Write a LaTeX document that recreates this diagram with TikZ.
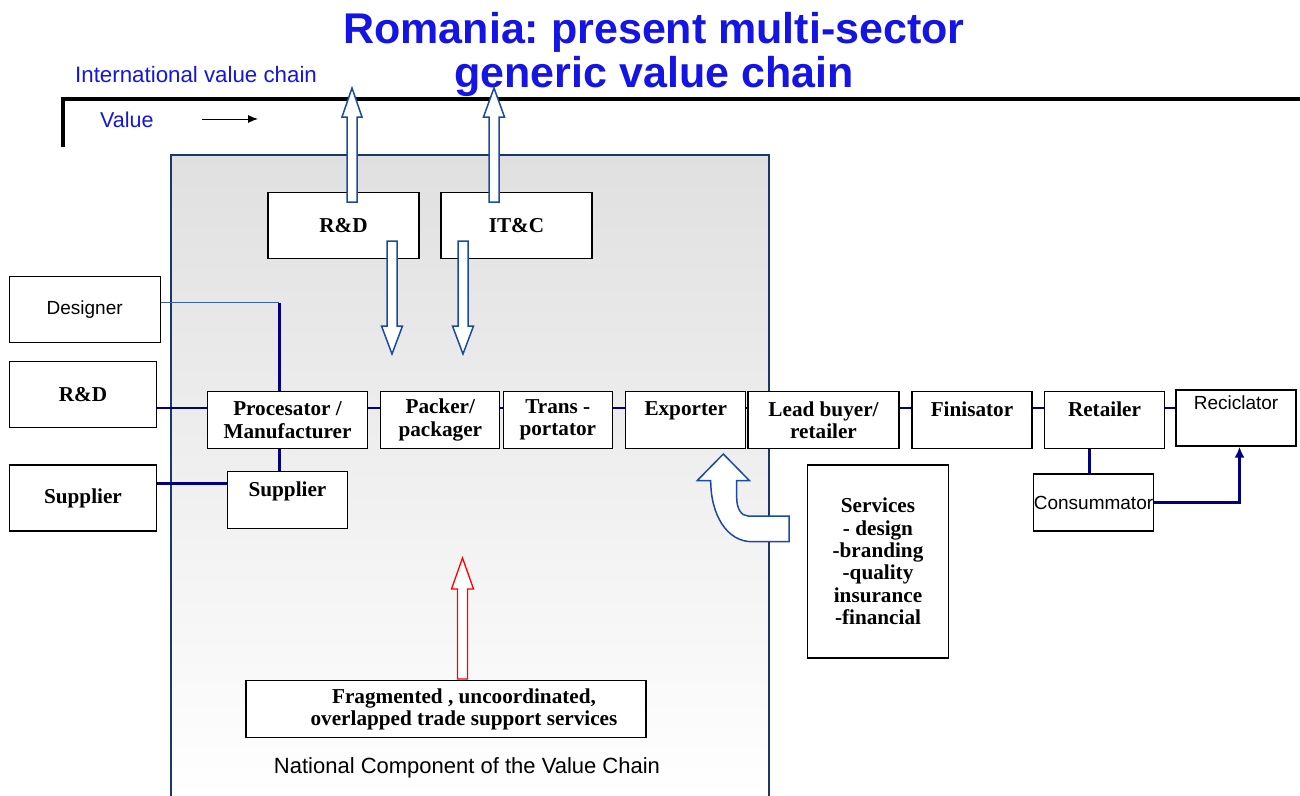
\documentclass[tikz,border=0pt]{standalone}
\usepackage{fontspec}
\setmainfont{Liberation Serif}
\setsansfont{Liberation Sans}
\usetikzlibrary{arrows.meta}
\frenchspacing
\definecolor{titleblue}{RGB}{20,20,228}
\definecolor{linknavy}{RGB}{0,0,128}
\definecolor{designlink}{RGB}{60,95,170}
\definecolor{panelnavy}{RGB}{25,55,105}
\definecolor{panelgray}{RGB}{224,224,224}
\definecolor{fatblue}{RGB}{25,75,160}
\begin{document}
\begin{tikzpicture}[x=1pt,y=-1pt,
  box/.style={draw,fill=white,line width=1.2pt,inner sep=0pt,align=center,
    font=\fontsize{21.2}{22.4}\selectfont\bfseries},
  sbox/.style={box,font=\fontsize{19}{22}\selectfont\sffamily},
  link/.style={draw=linknavy,line width=2.5pt},
  fat/.style={draw=fatblue,fill=white,line width=1.5pt}]
\useasboundingbox (0,0) rectangle (1300,795);

\shade[top color=panelgray,bottom color=white] (171,155) rectangle (769,800);
\draw[panelnavy,line width=2pt] (171,800)--(171,155)--(769,155)--(769,800);
\draw[line width=3.5pt] (63,147)--(63,99)--(1310,99);

\node[inner sep=0pt,align=center,text=titleblue,font=\fontsize{43}{44}\selectfont\sffamily\bfseries] (title) at (654,54) {Romania: present multi-sector\\generic value chain};
\node[anchor=base west,inner sep=0pt,text=titleblue,font=\fontsize{22.3}{24}\selectfont\sffamily] (intl) at (75,82) {International value chain};
\node[anchor=base west,inner sep=0pt,text=titleblue,font=\fontsize{21.5}{24}\selectfont\sffamily] (value) at (100,127) {Value};
\coordinate (vfrom) at (202,119);
\coordinate (vto) at (258,119);
\draw[-{Latex[length=10pt,width=8pt]},line width=1pt] (vfrom)--(vto);

\node[box,minimum width=151,minimum height=66] (rdtop) at (343.5,225.3) {R\&D};
\node[box,minimum width=151,minimum height=66] (itc) at (516.5,225.3) {IT\&C};

\node[sbox,minimum width=151,minimum height=66] (designer) at (84.7,309.7) {Designer};
\node[box,minimum width=147,minimum height=66] (rdleft) at (83,394.5) {R\&D};
\node[box,minimum width=147,minimum height=66] (supleft) at (83,498) {Supplier};

\node[box,minimum width=160,minimum height=57] (proc) at (287.5,420) {Procesator /\\Manufacturer};
\node[box,minimum width=119,minimum height=57] (packer) at (440.3,420) {Packer/\\packager};
\node[box,minimum width=109,minimum height=57] (trans) at (557.8,420) {Trans -\\portator};
\node[box,minimum width=120,minimum height=57] (exporter) at (685.7,420) {Exporter\\~};
\node[box,minimum width=151,minimum height=57] (leadbuyer) at (823.5,420) {Lead buyer/\\retailer};
\node[box,minimum width=120,minimum height=57] (finisator) at (972,420) {Finisator\\~};
\node[box,minimum width=120,minimum height=57] (retailer) at (1104.5,420) {Retailer\\~};
\node[sbox,minimum width=120,minimum height=56] (reciclator) at (1236,418) {Reciclator\\[8pt]~};

\node[box,minimum width=120,minimum height=57] (supin) at (287.5,500) {Supplier\\~};
\node[sbox,minimum width=119,minimum height=57] (consummator) at (1093.5,502.5) {Consummator};
\node[box,minimum width=141,minimum height=193] (services) at (878,561.5) {Services\\- design\\-branding\\-quality\\insurance\\-financial};
\node[box,minimum width=400,minimum height=57] (frag) at (446,709.3) {\hspace*{36pt}Fragmented , uncoordinated,\\\hspace*{36pt}overlapped trade support services};
\node[anchor=base,inner sep=0pt,font=\fontsize{22}{24}\selectfont\sffamily] (national) at (467,773) {National Component of the Value Chain};

\coordinate (chain) at (0,408);
\coordinate (suprow) at (0,483.5);
\coordinate (dbend) at (279.3,302.7);
\coordinate (rc) at ([xshift=-15pt]retailer.south);

\draw[draw=designlink,line width=1.3pt] ([yshift=7pt]designer.east)--(dbend);
\draw[link] (dbend)--(dbend |- proc.north);
\draw[link] (rdleft.east |- chain)--(proc.west |- chain);
\draw[link] (proc.east |- chain)--(packer.west |- chain);
\draw[link] (packer.east |- chain)--(trans.west |- chain);
\draw[link] (trans.east |- chain)--(exporter.west |- chain);
\draw[link] (exporter.east |- chain)--(leadbuyer.west |- chain);
\draw[link] (leadbuyer.east |- chain)--(finisator.west |- chain);
\draw[link] (finisator.east |- chain)--(retailer.west |- chain);
\draw[link] (retailer.east |- chain)--(reciclator.west |- chain);
\draw[link] (dbend |- proc.south)--(dbend |- supin.north);
\draw[link] (supleft.east |- suprow)--(supin.west |- suprow);
\draw[link] (rc)--(rc |- consummator.north);
\draw[link,-{Latex[length=11pt,width=10pt]}] (consummator.east)-|([xshift=3.5pt]reciclator.south);

\foreach \cx/\ys/\yb/\yt/\hw in {352/202/117/88/10,494/202/117/88/10.5,392/241/326/354/10.5,463/241/326/354/10.5}
  \draw[fat] (\cx-5,\ys)--(\cx-5,\yb)--(\cx-\hw,\yb)--(\cx,\yt)--(\cx+\hw,\yb)--(\cx+5,\yb)--(\cx+5,\ys)--cycle;
\draw[fat,draw=red,line width=1.3pt] (457.5,679)--(457.5,589)--(451.5,589)--(462.5,558)--(473.5,589)--(467.5,589)--(467.5,679)--cycle;
\draw[fat] (789,516)--(748,516) .. controls (741,516) and (736.7,508) .. (736.7,498)--(736.7,480.5)--(749.3,480.5)--(723.3,454)--(697.3,480.5)--(710.7,480.5) .. controls (710.7,515) and (727,541.7) .. (752,541.7)--(789,541.7)--cycle;
\end{tikzpicture}
\end{document}
